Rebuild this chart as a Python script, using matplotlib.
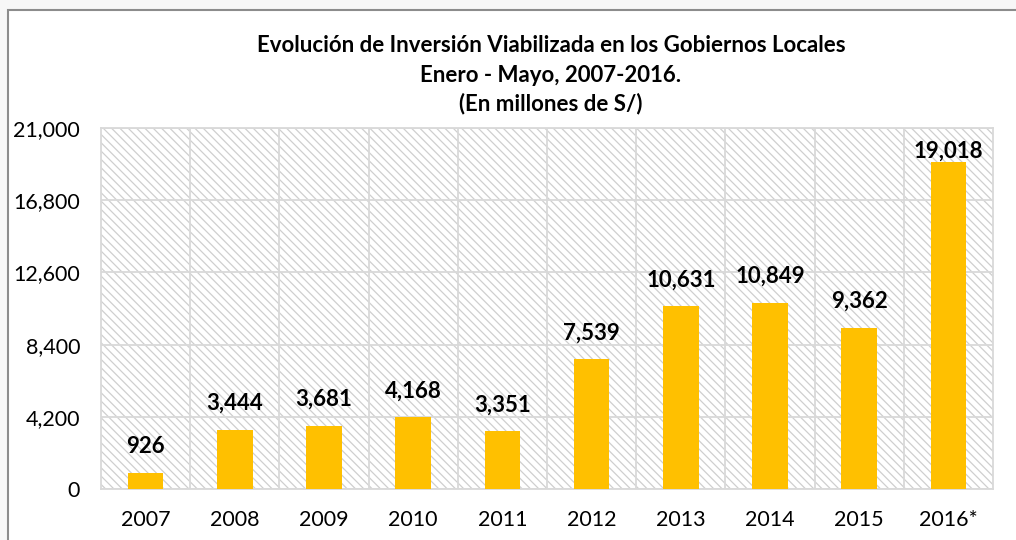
import matplotlib
matplotlib.use("Agg")
import matplotlib.pyplot as plt
from matplotlib.patches import Rectangle
from matplotlib.ticker import FuncFormatter

years = ["2007", "2008", "2009", "2010", "2011", "2012", "2013", "2014", "2015", "2016*"]
values = [926, 3444, 3681, 4168, 3351, 7539, 10631, 10849, 9362, 19018]
yticks = [0, 4200, 8400, 12600, 16800, 21000]
title_lines = ["Evolución de Inversión Viabilizada en los Gobiernos Locales",
               "Enero - Mayo, 2007-2016.",
               "(En millones de S/)"]

plt.rcParams['font.family'] = ['Lato', 'DejaVu Sans']
plt.rcParams['hatch.linewidth'] = 0.9

W, H = 1016, 540
fig = plt.figure(figsize=(W / 100, H / 100), dpi=100, facecolor='#f7f7f7')

# white chart panel with gray border (top/left visible)
panel = Rectangle((8 / W, -0.1), 1.2, (H - 10) / H + 0.1, transform=fig.transFigure,
                  facecolor='white', edgecolor='#8c8c8c', linewidth=1.5, zorder=-10)
fig.patches.append(panel)

ax = fig.add_axes([101 / W, 1 - 489 / H, (993 - 101) / W, (489 - 128) / H])
ax.set_zorder(1)
ax.set_facecolor('white')
ax.add_patch(Rectangle((0, 0), 1, 1, transform=ax.transAxes, facecolor='white',
                       edgecolor='#cfcfcf', linewidth=0, hatch='\\\\\\\\', zorder=0))

x = list(range(len(years)))
ax.bar(x, values, width=0.4, color='#FFC000', zorder=3)

ax.set_xlim(-0.5, len(years) - 0.5)
ax.set_ylim(yticks[0], yticks[-1])
ax.set_yticks(yticks)
ax.yaxis.set_major_formatter(FuncFormatter(lambda v, p: f"{int(v):,}"))
ax.set_xticks(x)
ax.set_xticklabels(years)
ax.set_xticks([i + 0.5 for i in x[:-1]], minor=True)

ax.grid(True, which='major', axis='y', color='#d9d9d9', linewidth=1.3, zorder=1)
ax.grid(True, which='minor', axis='x', color='#d9d9d9', linewidth=1.3, zorder=1)
ax.set_axisbelow(True)
for s in ax.spines.values():
    s.set_color('#d9d9d9')
    s.set_linewidth(1.3)
    s.set_zorder(1)

ax.tick_params(axis='both', which='both', length=0, labelsize=15.5, colors='black')
ax.tick_params(axis='y', pad=15)
ax.tick_params(axis='x', pad=15)

for i, v in enumerate(values):
    off = 14.4 if v + 3000 < yticks[-1] else 3
    ax.annotate(f"{v:,}", (i, v), xytext=(0, off), textcoords='offset points',
                ha='center', va='baseline', fontsize=16, fontweight='bold', zorder=4)

for k, (line, yy) in enumerate(zip(title_lines, [45, 75, 104])):
    fig.text(551 / W, 1 - yy / H, line, ha='center', va='center',
             fontsize=16, fontweight='bold')

fig.savefig('out.png', dpi=100, facecolor=fig.get_facecolor())
